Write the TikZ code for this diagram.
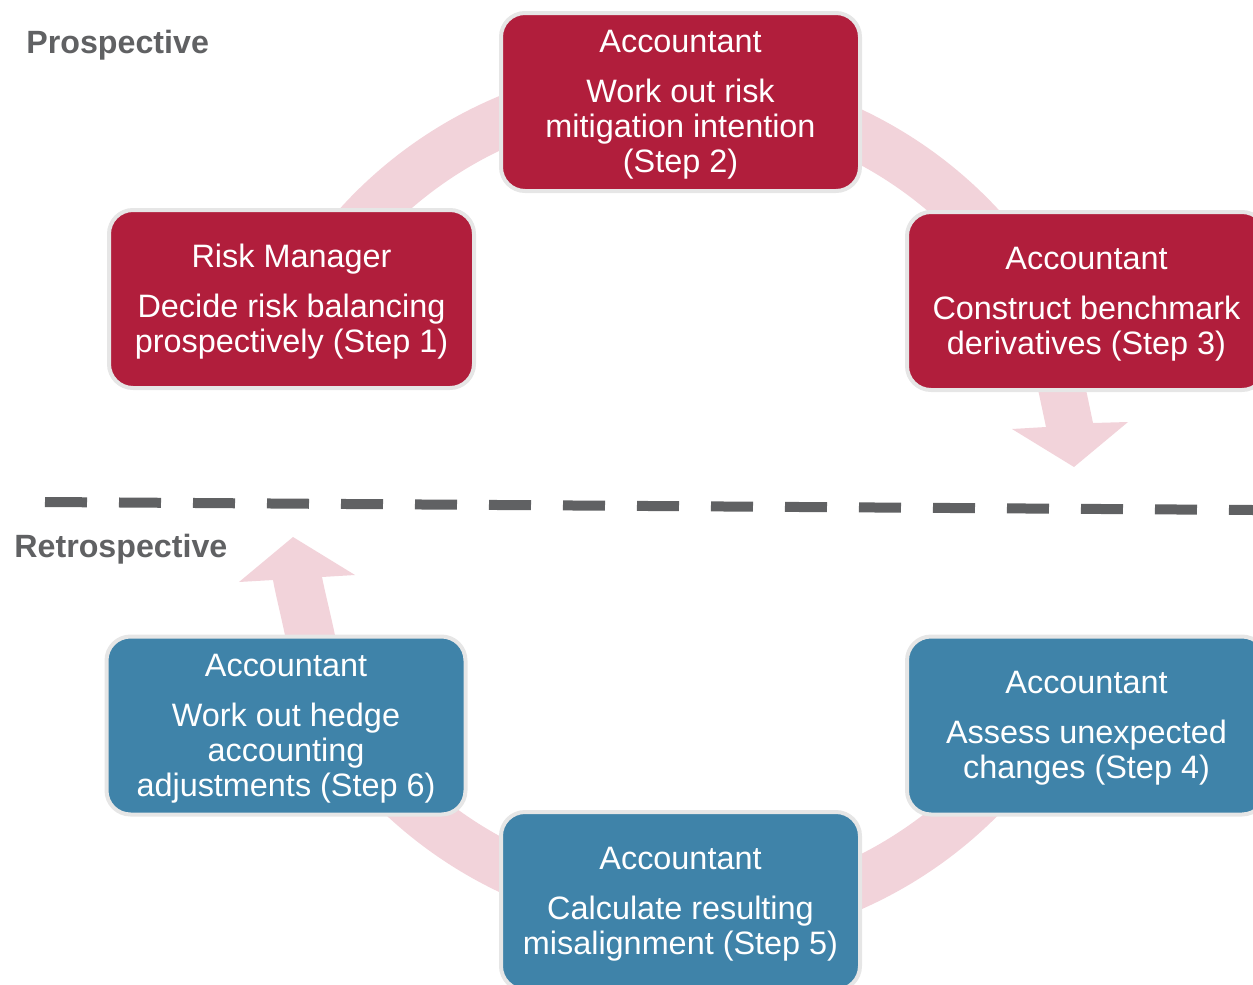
\documentclass[tikz,border=0pt]{standalone}
\usepackage{fontspec}
\setmainfont{Liberation Sans}
\definecolor{boxred}{HTML}{B11E3C}
\definecolor{boxblue}{HTML}{3F83A9}
\definecolor{ringpink}{HTML}{F2D3DA}
\definecolor{edgegray}{HTML}{E6E6E6}
\definecolor{labelgray}{HTML}{606163}
\newcommand\steptitle[1]{\rule{0pt}{14.3pt}#1}
\begin{document}
\begin{tikzpicture}[x=0.5pt,y=0.5pt,
  stepbox/.style={rounded corners=12pt, draw=edgegray, line width=2pt,
    minimum width=179.5pt, minimum height=89pt, inner sep=0pt, align=center,
    text=white, font=\fontsize{16.2}{17.5}\selectfont},
  redbox/.style={stepbox, fill=boxred},
  bluebox/.style={stepbox, fill=boxblue},
  ring/.style={draw=ringpink, line width=25pt},
  phase/.style={anchor=west, text=labelgray, inner sep=0pt,
    font=\fontsize{16.1}{19}\selectfont\bfseries},
  divider/.style={draw=labelgray, line width=5pt, dash pattern=on 21pt off 16pt}]

\useasboundingbox (0,0) rectangle (1253,-985);

% ring segments
\draw[ring] (670,-507) ++(150:420) arc[start angle=150, end angle=95, radius=420];
\draw[ring] (672,-512) ++(85:420) arc[start angle=85, end angle=30, radius=420];
\draw[ring] (690,-490) ++(215:420) arc[start angle=215, end angle=260, radius=420];
\draw[ring] (682,-502) ++(280:420) arc[start angle=280, end angle=325, radius=420];

% arrows
\fill[ringpink] (1036,-380) -- (1046,-427) -- (1012,-429) -- (1074,-467)
  -- (1128,-422) -- (1093,-423) -- (1084,-380) -- cycle;
\fill[ringpink] (287,-645) .. controls (281,-615) and (276,-597) .. (273,-580)
  -- (239,-582) -- (293,-537) -- (355,-575) -- (322,-577)
  .. controls (326,-597) and (331,-615) .. (337,-645) -- cycle;

% divider
\coordinate (dl) at (45,-502);
\coordinate (dr) at (1253,-510);
\draw[divider] (dl) -- (dr);

% phase labels
\node[phase] (pro) at (26,-45) {Prospective};
\node[phase] (retro) at (14,-549) {Retrospective};

% steps
\node[redbox, minimum width=182.5pt] (s1) at (291.5,-299)
  {\steptitle{Risk Manager}\\[7.5pt]Decide risk balancing\\prospectively (Step 1)};
\node[redbox] (s2) at (680.5,-102)
  {\steptitle{Accountant}\\[7.5pt]Work out risk\\mitigation intention\\(Step 2)};
\node[redbox] (s3) at (1086.5,-301)
  {\steptitle{Accountant}\\[7.5pt]Construct benchmark\\derivatives (Step 3)};
\node[bluebox] (s4) at (1086.5,-725.5)
  {\steptitle{Accountant}\\[7.5pt]Assess unexpected\\changes (Step 4)};
\node[bluebox] (s5) at (680.5,-901)
  {\steptitle{Accountant}\\[7.5pt]Calculate resulting\\misalignment (Step 5)};
\node[bluebox] (s6) at (286,-725.5)
  {\steptitle{Accountant}\\[7.5pt]Work out hedge\\accounting\\adjustments (Step 6)};
\end{tikzpicture}
\end{document}
